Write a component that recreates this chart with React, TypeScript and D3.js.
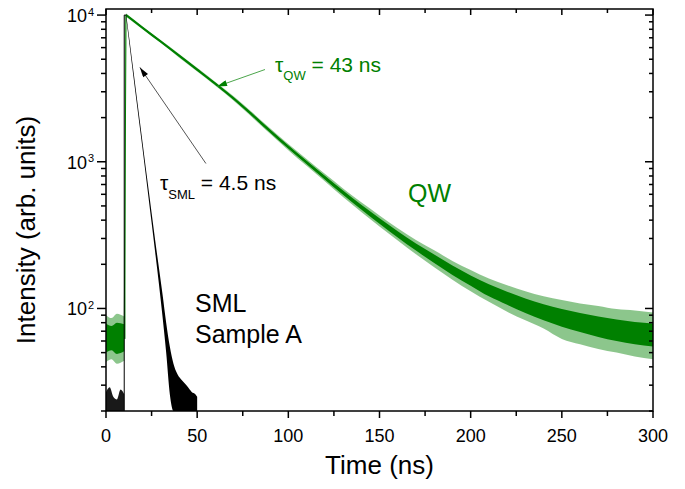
import React from "react";
import * as d3 from "d3";

const W = 685, H = 489;
const margin = { top: 9, right: 32, bottom: 78, left: 106 };
const GREEN = "#008000";
const FONT = "'Liberation Sans', Arial, Helvetica, sans-serif";

// x ticks
const xMajor = [0, 50, 100, 150, 200, 250, 300];
const xMinor = [25, 75, 125, 175, 225, 275];
const yMajor = [100, 1000, 10000];
const yMajorExp = ["2", "3", "4"];

// QW trace before excitation (t < 10 ns)
const qwPreTime = [0, 3, 6, 10];
const qwPreLow = [43, 45, 42, 44];
const qwPreCoreLow = [50, 52, 49, 51];
const qwPreCoreHigh = [79, 76, 80, 78];
const qwPreHigh = [90, 86, 92, 88];
const qwRise = [62, 10000];
const riseTime = 10;

// QW decay
const qwTime = [11, 20, 30, 40, 50, 60, 70, 80, 90, 100, 110, 120, 130, 140, 150, 160, 170, 180, 190, 200, 210, 220, 230, 240, 250, 260, 270, 280, 290, 300];
const qwMid = [10000, 8200, 6600, 5300, 4250, 3400, 2700, 2100, 1620, 1260, 990, 780, 615, 490, 395, 320, 262, 218, 182, 155, 133, 117, 104, 94, 86, 80, 75, 71, 68, 66];
const qwHigh = [10250, 8405, 6765, 5459, 4378, 3502, 2795, 2184, 1693, 1323, 1044, 827, 658, 529, 431, 352, 293, 249, 211, 183, 160, 144, 131, 121, 114, 108, 104, 99, 97, 94];
const qwLow = [9756, 8000, 6439, 5146, 4126, 3301, 2609, 2019, 1550, 1200, 938, 736, 575, 454, 362, 291, 234, 191, 157, 131, 111, 95, 83, 73, 62, 57, 53, 50, 47, 45];
const qwCoreHigh = [10124, 8302, 6682, 5380, 4314, 3451, 2747, 2142, 1656, 1291, 1017, 803, 636, 509, 412, 336, 277, 233, 196, 168, 146, 130, 117, 107, 99, 93, 88, 84, 81, 79];
const qwCoreLow = [9877, 8099, 6519, 5222, 4187, 3350, 2654, 2059, 1585, 1230, 964, 757, 595, 472, 378, 305, 248, 204, 169, 143, 121, 106, 93, 83, 75, 69, 64, 60, 57, 55];

// SML trace
const smlPreTime = [0, 2, 4, 6, 8, 10];
const smlPreHigh = [27, 29, 25, 24, 28, 26];
const smlTime = [11, 13, 15, 17, 19, 21, 23, 25, 27, 29, 31, 33, 35, 37, 39, 41, 43, 45, 47, 49, 50];
const smlHigh = [10300, 6600, 4200, 2680, 1710, 1090, 700, 450, 290, 190, 125, 80, 55, 42, 36, 33, 31, 29, 27, 26, 25];
const smlLow = [9700, 6100, 3850, 2440, 1550, 980, 615, 385, 240, 148, 88, 50, 26, 20, 20, 20, 20, 20, 20, 20, 20];
const smlFloor = 20;

// annotations (data coordinates)
const qwArrow = { from: [87.2, 4254], to: [60.9, 3260] };
const smlArrow = { from: [54.8, 973], to: [18.6, 4400] };
const qwTauPos = [92.7, 4065];
const smlTauPos = [29.6, 646];
const qwLabelPos = [165.6, 535];
const smlLabelPos = [48.8, 95];
const sampleLabelPos = [48.8, 58];

export default function App() {
  const x = d3.scaleLinear().domain([0, 300]).range([margin.left, W - margin.right]);
  const y = d3.scaleLog().domain([20, 11000]).range([H - margin.bottom, margin.top]);
  const [x0, x1] = x.range();
  const [yb, yt] = y.range();

  const band = (t: number[], lo: number[], hi: number[]) =>
    d3.area<number>()
      .curve(d3.curveMonotoneX)
      .x((_, i) => x(t[i]))
      .y0((_, i) => y(Math.max(lo[i], smlFloor)))
      .y1((_, i) => y(hi[i]))(t) || "";
  const line = (t: number[], v: number[]) =>
    d3.line<number>().curve(d3.curveMonotoneX).x((_, i) => x(t[i])).y((_, i) => y(v[i]))(t) || "";

  const yMinor = y.ticks().filter(v => !yMajor.includes(v));
  const flat = (t: number[], v: number) => t.map(() => v);

  return (
    <svg width={W} height={H} style={{ position: "absolute", left: 0, top: 0, background: "#fff" }} fontFamily={FONT}>
      <defs>
        <clipPath id="plot">
          <rect x={x0} y={yt} width={x1 - x0} height={yb - yt} />
        </clipPath>
        <marker id="ahG" viewBox="0 0 10 6" refX="10" refY="3" markerWidth="11" markerHeight="6" markerUnits="userSpaceOnUse" orient="auto">
          <path d="M0,0L10,3L0,6Z" fill={GREEN} />
        </marker>
        <marker id="ahK" viewBox="0 0 10 6" refX="10" refY="3" markerWidth="11" markerHeight="6" markerUnits="userSpaceOnUse" orient="auto">
          <path d="M0,0L10,3L0,6Z" fill="#000" />
        </marker>
      </defs>

      <g clipPath="url(#plot)">
        {/* QW */}
        <path d={band(qwPreTime, qwPreLow, qwPreHigh)} fill={GREEN} opacity={0.45} />
        <path d={band(qwPreTime, qwPreCoreLow, qwPreCoreHigh)} fill={GREEN} />
        <line x1={x(riseTime) + 1} x2={x(riseTime) + 1} y1={y(qwRise[0])} y2={y(qwRise[1])} stroke={GREEN} strokeOpacity={0.6} strokeWidth={1} />
        <path d={line([riseTime, qwTime[0]], qwRise)} fill="none" stroke={GREEN} strokeWidth={1} />
        <path d={band(qwTime, qwLow, qwHigh)} fill={GREEN} opacity={0.45} />
        <path d={band(qwTime, qwCoreLow, qwCoreHigh)} fill={GREEN} />
        <path d={line(qwTime, qwMid)} fill="none" stroke={GREEN} strokeWidth={2} />

        {/* SML */}
        <path d={band(smlPreTime, flat(smlPreTime, smlFloor), smlPreHigh)} fill="#000" opacity={0.9} />
        <line x1={x(riseTime)} x2={x(riseTime)} y1={y(smlFloor)} y2={y(10000)} stroke="#000" strokeWidth={1} />
        <path d={line([riseTime, smlTime[0]], [10000, 10000])} fill="none" stroke="#000" strokeWidth={1} />
        <path d={band(smlTime, smlLow, smlHigh)} fill="#000" />
      </g>

      {/* frame */}
      <rect x={x0} y={yt} width={x1 - x0} height={yb - yt} fill="none" stroke="#000" strokeWidth={1.5} />

      {/* x ticks */}
      {xMajor.map(v => (
        <g key={"xM" + v}>
          <line x1={x(v)} x2={x(v)} y1={yb} y2={yb + 7} stroke="#000" strokeWidth={1.5} />
          <line x1={x(v)} x2={x(v)} y1={yt} y2={yt + 6} stroke="#000" strokeWidth={1.5} />
          <text x={x(v)} y={yb + 31} fontSize={18} textAnchor="middle">{v}</text>
        </g>
      ))}
      {xMinor.map(v => (
        <g key={"xm" + v}>
          <line x1={x(v)} x2={x(v)} y1={yb} y2={yb + 5} stroke="#000" strokeWidth={1.5} />
          <line x1={x(v)} x2={x(v)} y1={yt} y2={yt + 4} stroke="#000" strokeWidth={1.5} />
        </g>
      ))}

      {/* y ticks */}
      {yMajor.map((v, i) => (
        <g key={"yM" + v}>
          <line x1={x0 - 9} x2={x0} y1={y(v)} y2={y(v)} stroke="#000" strokeWidth={1.5} />
          <line x1={x1 - 8} x2={x1} y1={y(v)} y2={y(v)} stroke="#000" strokeWidth={1.5} />
          <text x={x0 - 19} y={y(v) + 7} fontSize={18} textAnchor="end">10</text>
          <text x={x0 - 18} y={y(v) + 0.5} fontSize={11}>{yMajorExp[i]}</text>
        </g>
      ))}
      {yMinor.map(v => (
        <g key={"ym" + v}>
          <line x1={x0 - 5} x2={x0} y1={y(v)} y2={y(v)} stroke="#000" strokeWidth={1.5} />
          <line x1={x1 - 4} x2={x1} y1={y(v)} y2={y(v)} stroke="#000" strokeWidth={1.5} />
        </g>
      ))}

      {/* axis titles */}
      <text x={(x0 + x1) / 2} y={474} fontSize={26} textAnchor="middle">Time (ns)</text>
      <text transform={`translate(35,${(yb + yt) / 2 + 20}) rotate(-90)`} fontSize={26} textAnchor="middle">Intensity (arb. units)</text>

      {/* annotations */}
      <line x1={x(qwArrow.from[0])} y1={y(qwArrow.from[1])} x2={x(qwArrow.to[0])} y2={y(qwArrow.to[1])} stroke="#4ca64c" strokeWidth={1} markerEnd="url(#ahG)" />
      <line x1={x(smlArrow.from[0])} y1={y(smlArrow.from[1])} x2={x(smlArrow.to[0])} y2={y(smlArrow.to[1])} stroke="#555" strokeWidth={1} markerEnd="url(#ahK)" />

      <text x={x(qwTauPos[0])} y={y(qwTauPos[1])} fontSize={21} fill={GREEN}>
        τ<tspan dy={8} fontSize={13}>QW</tspan><tspan dy={-8}> = 43 ns</tspan>
      </text>
      <text x={x(smlTauPos[0])} y={y(smlTauPos[1])} fontSize={21} fill="#000">
        τ<tspan dy={9} fontSize={13}>SML</tspan><tspan dy={-9}> = 4.5 ns</tspan>
      </text>
      <text x={x(qwLabelPos[0])} y={y(qwLabelPos[1])} fontSize={25} fill={GREEN}>QW</text>
      <text x={x(smlLabelPos[0])} y={y(smlLabelPos[1])} fontSize={25} fill="#000">SML</text>
      <text x={x(sampleLabelPos[0])} y={y(sampleLabelPos[1])} fontSize={25} fill="#000">Sample A</text>
    </svg>
  );
}
